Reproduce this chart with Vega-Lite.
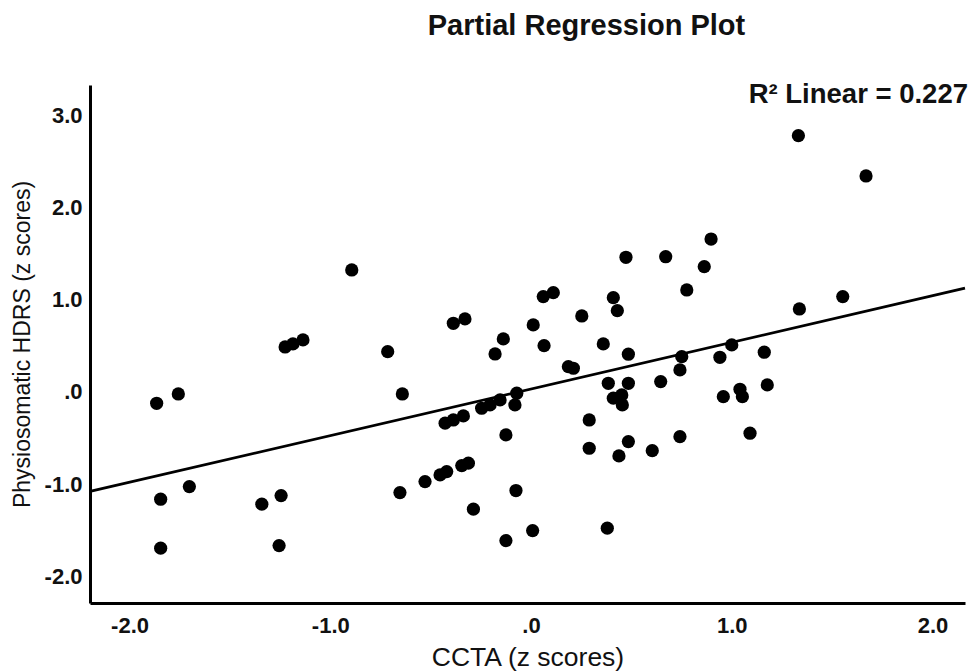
{
  "$schema": "https://vega.github.io/schema/vega-lite/v6.json",
  "width": 875,
  "height": 518,
  "autosize": "none",
  "padding": {"left": 90, "top": 85, "right": 6, "bottom": 68},
  "background": "white",
  "config": {
    "view": {"stroke": null},
    "font": "Liberation Sans"
  },
  "title": {
    "text": "Partial Regression Plot",
    "font": "Liberation Sans",
    "fontSize": 29,
    "fontWeight": "bold",
    "color": "#111",
    "anchor": "middle",
    "dx": 59,
    "offset": 40
  },
  "datasets": {
    "pts": [
      {"x": -1.865, "y": -0.123}, {"x": -1.757, "y": -0.022}, {"x": -1.845, "y": -1.164},
      {"x": -1.702, "y": -1.027}, {"x": -1.845, "y": -1.695}, {"x": -1.341, "y": -1.218},
      {"x": -1.245, "y": -1.125}, {"x": -1.255, "y": -1.667}, {"x": -1.225, "y": 0.488},
      {"x": -1.186, "y": 0.521}, {"x": -1.136, "y": 0.564}, {"x": -0.893, "y": 1.323},
      {"x": -0.714, "y": 0.437}, {"x": -0.641, "y": -0.022}, {"x": -0.653, "y": -1.092},
      {"x": -0.528, "y": -0.973}, {"x": -0.453, "y": -0.9}, {"x": -0.42, "y": -0.864},
      {"x": -0.345, "y": -0.799}, {"x": -0.312, "y": -0.773}, {"x": -0.287, "y": -1.272},
      {"x": -0.387, "y": 0.745}, {"x": -0.329, "y": 0.792}, {"x": -0.428, "y": -0.339},
      {"x": -0.387, "y": -0.304}, {"x": -0.337, "y": -0.26}, {"x": -0.246, "y": -0.177},
      {"x": -0.204, "y": -0.141}, {"x": -0.154, "y": -0.087}, {"x": -0.071, "y": -0.014},
      {"x": -0.08, "y": -0.141}, {"x": -0.125, "y": -0.466}, {"x": -0.179, "y": 0.412},
      {"x": -0.138, "y": 0.575}, {"x": -0.075, "y": -1.07}, {"x": -0.125, "y": -1.613},
      {"x": 0.008, "y": -1.504}, {"x": 0.011, "y": 0.727}, {"x": 0.38, "y": -1.478},
      {"x": 1.332, "y": 2.78}, {"x": 1.669, "y": 2.343}, {"x": 0.897, "y": 1.659},
      {"x": 0.473, "y": 1.461}, {"x": 0.671, "y": 1.467}, {"x": 0.863, "y": 1.359},
      {"x": 0.776, "y": 1.106}, {"x": 0.061, "y": 1.034}, {"x": 0.111, "y": 1.077},
      {"x": 0.41, "y": 1.023}, {"x": 0.43, "y": 0.882}, {"x": 0.253, "y": 0.824},
      {"x": 1.337, "y": 0.9}, {"x": 1.553, "y": 1.034}, {"x": 0.065, "y": 0.502},
      {"x": 0.36, "y": 0.521}, {"x": 0.485, "y": 0.409}, {"x": 0.186, "y": 0.274},
      {"x": 0.211, "y": 0.257}, {"x": 0.751, "y": 0.383}, {"x": 1.0, "y": 0.51},
      {"x": 0.941, "y": 0.376}, {"x": 1.162, "y": 0.431}, {"x": 0.742, "y": 0.239},
      {"x": 1.177, "y": 0.076}, {"x": 0.385, "y": 0.094}, {"x": 0.485, "y": 0.094},
      {"x": 0.646, "y": 0.112}, {"x": 0.41, "y": -0.068}, {"x": 0.452, "y": -0.033},
      {"x": 0.455, "y": -0.141}, {"x": 0.958, "y": -0.051}, {"x": 1.041, "y": 0.029},
      {"x": 1.053, "y": -0.051}, {"x": 0.29, "y": -0.304}, {"x": 0.29, "y": -0.611},
      {"x": 0.485, "y": -0.539}, {"x": 0.438, "y": -0.694}, {"x": 0.604, "y": -0.637},
      {"x": 0.742, "y": -0.485}, {"x": 1.091, "y": -0.448}
    ],
    "fit": [
      {"x": -2.197, "y": -1.08},
      {"x": 2.162, "y": 1.125}
    ]
  },
  "layer": [
    {
      "data": {"name": "fit"},
      "mark": {"type": "line", "color": "black", "strokeWidth": 2.8},
      "encoding": {
        "x": {"field": "x", "type": "quantitative"},
        "y": {"field": "y", "type": "quantitative"}
      }
    },
    {
      "data": {"name": "pts"},
      "mark": {"type": "point", "filled": true, "color": "black", "opacity": 1, "size": 175, "shape": "circle"},
      "encoding": {
        "x": {
          "field": "x", "type": "quantitative",
          "scale": {"domain": [-2.197, 2.162], "nice": false, "zero": false},
          "axis": {
            "title": "CCTA (z scores)",
            "values": [-2, -1, 0, 1, 2],
            "labelExpr": "datum.value == 0 ? '.0' : (datum.value < 0 ? '-' : '') + format(abs(datum.value), '.1f')",
            "grid": false, "ticks": false,
            "domainColor": "black", "domainWidth": 3,
            "labelFont": "Liberation Sans", "labelFontSize": 22, "labelFontWeight": "bold", "labelColor": "#111",
            "labelPadding": 12,
            "titleFont": "Liberation Sans", "titleFontSize": 26.5, "titleFontWeight": "normal", "titleColor": "#111",
            "titlePadding": 8
          }
        },
        "y": {
          "field": "y", "type": "quantitative",
          "scale": {"domain": [-2.29, 3.33], "nice": false, "zero": false},
          "axis": {
            "title": "Physiosomatic HDRS (z scores)",
            "values": [-2, -1, 0, 1, 2, 3],
            "labelExpr": "datum.value == 0 ? '.0' : (datum.value < 0 ? '-' : '') + format(abs(datum.value), '.1f')",
            "grid": false, "ticks": false,
            "domainColor": "black", "domainWidth": 3,
            "labelFont": "Liberation Sans", "labelFontSize": 22, "labelFontWeight": "bold", "labelColor": "#111",
            "labelPadding": 8,
            "titleFont": "Liberation Sans", "titleFontSize": 23, "titleFontWeight": "normal", "titleColor": "#111",
            "titlePadding": 10
          }
        }
      }
    },
    {
      "data": {"values": [{"label": "R²  Linear = 0.227"}]},
      "mark": {"type": "text", "align": "right", "baseline": "middle", "dx": 3, "font": "Liberation Sans", "fontSize": 27.5, "fontWeight": "bold", "color": "#111"},
      "encoding": {
        "x": {"datum": 2.162},
        "y": {"datum": 3.22},
        "text": {"field": "label"}
      }
    }
  ]
}
